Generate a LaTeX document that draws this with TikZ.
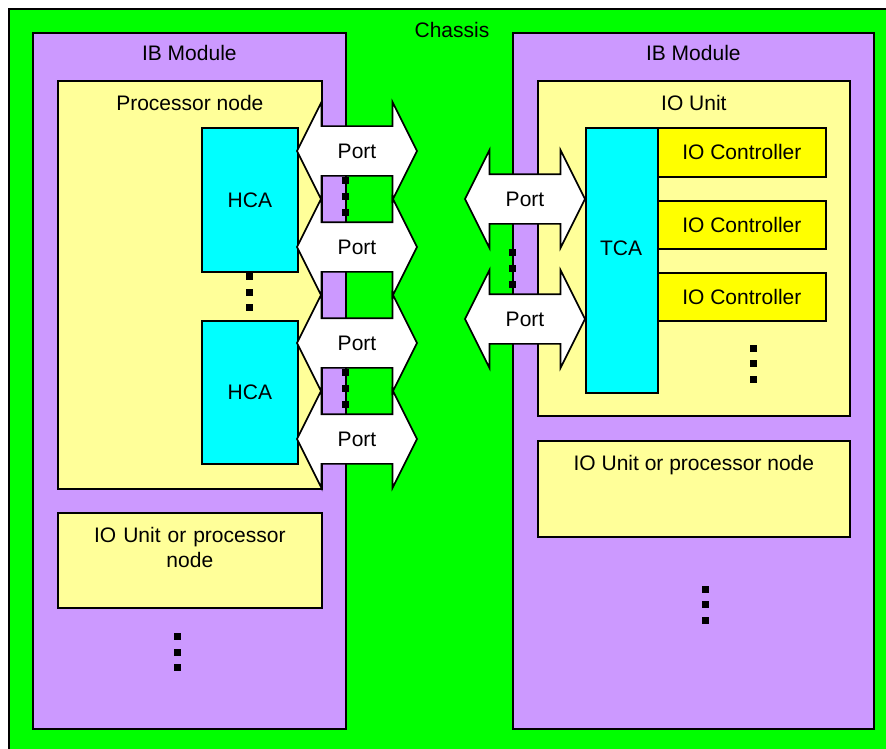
\documentclass[tikz,border=0pt]{standalone}
\usepackage{fontspec}
\setmainfont{Liberation Sans}
\usetikzlibrary{positioning,shapes.arrows}
\definecolor{chassisgreen}{HTML}{00FF00}
\definecolor{modpurple}{HTML}{CC99FF}
\definecolor{unityellow}{HTML}{FFFF99}
\definecolor{cacyan}{HTML}{00FFFF}
\definecolor{ctrlyellow}{HTML}{FFFF00}

\begin{document}
\begin{tikzpicture}[x=1pt, y=-1pt,
    box/.style={draw, line width=1.7pt, anchor=north west, inner sep=0,
        font=\fontsize{21}{25}\selectfont, text height=15pt, text depth=0pt},
    lbl/.style={font=\fontsize{21}{25}\selectfont, inner sep=0, text height=15pt, text depth=0pt},
    port/.style={double arrow, draw, fill=white, line width=1.7pt,
        font=\fontsize{21}{25}\selectfont, text height=15pt, text depth=0pt,
        minimum height=120pt, double arrow head extend=24pt,
        double arrow tip angle=126.87, inner xsep=2pt, inner ysep=16.5pt},
    dot/.style={fill=black, minimum width=7pt, minimum height=7pt, inner sep=0}
]
\useasboundingbox (0,0) rectangle (886,749);
\clip (0,0) rectangle (886,749);

% Chassis and modules
\node[box, fill=chassisgreen, minimum width=900, minimum height=760] (chassis) at (8,8) {};
\node[lbl] (chassisLbl) at (452,30) {Chassis};
\node[box, fill=modpurple, minimum width=313, minimum height=696] (modL) at (32,32) {};
\node[box, fill=modpurple, minimum width=361, minimum height=696] (modR) at (512,32) {};
\node[lbl, below=13.5pt of modL.north] (modLLbl) {IB Module};
\node[lbl, below=13.5pt of modR.north] (modRLbl) {IB Module};

% Left module
\node[box, fill=unityellow, minimum width=264, minimum height=408] (proc) at (57,80) {};
\node[lbl, below=15.5pt of proc.north] (procLbl) {Processor node};
\node[box, fill=cacyan, minimum width=96, minimum height=144] (hca1) at (201,127) {HCA};
\node[box, fill=cacyan, minimum width=96, minimum height=143] (hca2) at (201,320) {HCA};
\node[box, fill=unityellow, minimum width=264, minimum height=95] (otherL) at (57,512) {};
\node[lbl, below=15pt of otherL.north, text height=, text depth=, align=center,
    text width=250, font=\fontsize{21}{25}\selectfont] (otherLLbl) {IO Unit or processor\\node};

% Right module
\node[box, fill=unityellow, minimum width=312, minimum height=335] (iou) at (537,80) {};
\node[lbl, below=15.5pt of iou.north] (iouLbl) {IO Unit};
\node[box, fill=cacyan, minimum width=72, minimum height=265] (tca) at (585,127) {};
\node[lbl] (tcaLbl) at (621,248) {TCA};
\node[box, fill=ctrlyellow, minimum width=168, minimum height=49] (ctrl1) at (657,127) {IO Controller};
\node[box, fill=ctrlyellow, minimum width=168, minimum height=48] (ctrl2) at (657,200) {IO Controller};
\node[box, fill=ctrlyellow, minimum width=168, minimum height=48] (ctrl3) at (657,272) {IO Controller};
\node[box, fill=unityellow, minimum width=312, minimum height=96] (otherR) at (537,440) {};
\node[lbl, below=15.5pt of otherR.north] (otherRLbl) {IO Unit or processor node};

% Ports
\node[port] (p1) at (357,151) {Port};
\node[port] (p2) at (357,247) {Port};
\node[port] (p3) at (357,343) {Port};
\node[port] (p4) at (357,439) {Port};
\node[port] (p5) at (525,199) {Port};
\node[port] (p6) at (525,319) {Port};

% Continuation dots
\foreach \i/\y in {1/276,2/292,3/307} \node[dot] (hcaDot\i) at (249,\y) {};
\foreach \i/\y in {1/180,2/196,3/212} \node[dot] (brdA\i) at (345,\y) {};
\foreach \i/\y in {1/372,2/388,3/404} \node[dot] (brdB\i) at (345,\y) {};
\foreach \i/\y in {1/252,2/268,3/284} \node[dot] (brdC\i) at (512,\y) {};
\foreach \i/\y in {1/348,2/363,3/379} \node[dot] (ctrlDot\i) at (753,\y) {};
\foreach \i/\y in {1/636,2/652,3/667} \node[dot] (modLDot\i) at (177,\y) {};
\foreach \i/\y in {1/589,2/604,3/620} \node[dot] (modRDot\i) at (705,\y) {};
\end{tikzpicture}
\end{document}
